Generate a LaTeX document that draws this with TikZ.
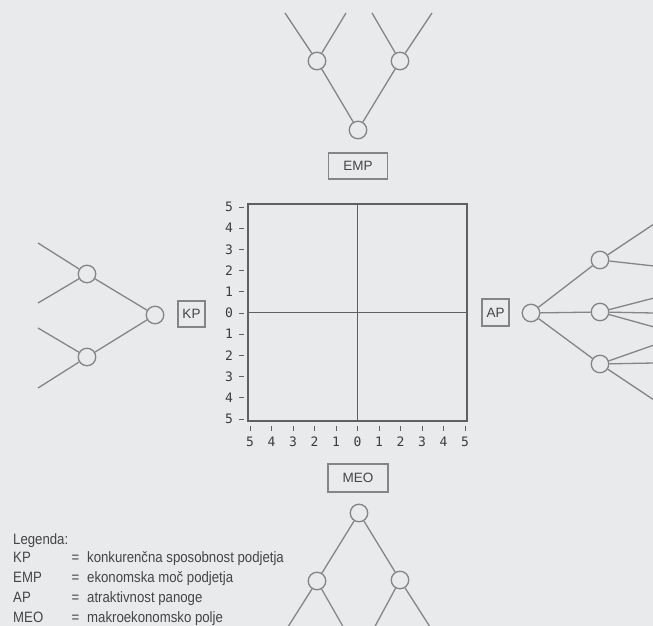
\documentclass[tikz,border=0pt]{standalone}
\usepackage{fontspec}
\setmainfont{Liberation Sans}
\newfontfamily\axisfont{DejaVu Sans Mono}
\newfontfamily\legendfont[FakeStretch=0.88]{Liberation Sans}
\definecolor{bg}{HTML}{E8EAEB}
\definecolor{ln}{HTML}{858585}
\definecolor{ax}{HTML}{606060}
\definecolor{tx}{HTML}{454545}
\definecolor{dg}{HTML}{3C3C3C}
\begin{document}
\begin{tikzpicture}[x=1pt,y=-1pt,
  circ/.style={circle,draw=ln,fill=bg,line width=1.3pt,minimum size=17.5pt,inner sep=0pt},
  lbox/.style={draw=ln,line width=1.2pt,fill=bg,text=tx,font=\fontsize{13.5}{13.5}\selectfont,minimum height=26pt,inner sep=0pt},
  conn/.style={draw=ln,line width=1.3pt},
  axlab/.style={text=dg,font=\axisfont\fontsize{13}{13}\selectfont,inner sep=0pt},
  tick/.style={draw=ax,line width=0.9pt},
  leg/.style={text=tx,font=\legendfont\fontsize{15}{15}\selectfont,inner sep=0pt,anchor=base west}]
\fill[bg] (0,0) rectangle (653,626);
\useasboundingbox (0,0) rectangle (653,626);
\begin{scope}
\clip (0,0) rectangle (653,626);
% ---------- EMP tree (top)
\node[circ] (e0) at (358,130) {};
\node[circ] (e1) at (317,61) {};
\node[circ] (e2) at (400,61) {};
\coordinate (e1a) at (285,13);
\coordinate (e1b) at (346,13);
\coordinate (e2a) at (372,13);
\coordinate (e2b) at (432,13);
\node[lbox,minimum width=59pt] (emp) at (358,166) {EMP};
\draw[conn] (e0) -- (e1) (e0) -- (e2) (e1) -- (e1a) (e1) -- (e1b) (e2) -- (e2a) (e2) -- (e2b);
% ---------- KP tree (left)
\node[circ] (k0) at (155,315) {};
\node[circ] (k1) at (87,274) {};
\node[circ] (k2) at (87,357) {};
\coordinate (k1a) at (38,243);
\coordinate (k1b) at (38,303);
\coordinate (k2a) at (38,328);
\coordinate (k2b) at (38,388);
\node[lbox,minimum width=27pt] (kp) at (191.5,314) {KP};
\draw[conn] (k0) -- (k1) (k0) -- (k2) (k1) -- (k1a) (k1) -- (k1b) (k2) -- (k2a) (k2) -- (k2b);
% ---------- AP tree (right)
\node[circ] (a0) at (531,313) {};
\node[circ] (a1) at (600,260) {};
\node[circ] (a2) at (600,312) {};
\node[circ] (a3) at (600,364) {};
\coordinate (a1a) at (654,224);
\coordinate (a1b) at (654,266);
\coordinate (a2a) at (654,298);
\coordinate (a2b) at (654,313);
\coordinate (a2c) at (654,327);
\coordinate (a3a) at (654,345);
\coordinate (a3b) at (654,363);
\coordinate (a3c) at (654,400);
\node[lbox,minimum width=27pt,minimum height=27pt] (ap) at (495.5,312.5) {AP};
\draw[conn] (a0) -- (a1) (a0) -- (a2) (a0) -- (a3)
  (a1) -- (a1a) (a1) -- (a1b)
  (a2) -- (a2a) (a2) -- (a2b) (a2) -- (a2c)
  (a3) -- (a3a) (a3) -- (a3b) (a3) -- (a3c);
% ---------- MEO tree (bottom)
\node[lbox,minimum width=60pt,minimum height=28pt] (meo) at (358,478) {MEO};
\node[circ] (m0) at (359,513) {};
\node[circ] (m1) at (317,581) {};
\node[circ] (m2) at (400,580) {};
\coordinate (m1a) at (286,630);
\coordinate (m1b) at (345,630);
\coordinate (m2a) at (373,630);
\coordinate (m2b) at (432,630);
\draw[conn] (m0) -- (m1) (m0) -- (m2) (m1) -- (m1a) (m1) -- (m1b) (m2) -- (m2a) (m2) -- (m2b);
% ---------- chart
\node[draw=ax,line width=1.2pt,minimum width=219pt,minimum height=217pt,inner sep=0pt] (chart) at (357.5,312.5) {};
\draw[ax,line width=1.2pt] (chart.north) -- (chart.south) (chart.west) -- (chart.east);
\foreach \i in {-5,...,5}{
  \pgfmathtruncatemacro\a{abs(\i)}
  \node[axlab] (yl\i) at (229,313+21.2*\i) {\a};
  \draw[tick] (239,313+21.2*\i) -- (243.5,313+21.2*\i);
  \node[axlab] (xl\i) at (357.5+21.5*\i,442) {\a};
  \draw[tick] (357.5+21.5*\i,426) -- (357.5+21.5*\i,431);
}
% ---------- legend
\node[leg] (lg) at (13,544) {Legenda:};
\node[leg] (l1) at (13,562) {KP};
\node[leg] (l2) at (13,582) {EMP};
\node[leg] (l3) at (13,602) {AP};
\node[leg] (l4) at (13,622) {MEO};
\foreach \k/\y in {1/562,2/582,3/602,4/622}{
  \node[leg,anchor=base] (eq\k) at (75.5,\y) {=};
}
\node[leg] (t1) at (87,562) {konkurenčna sposobnost podjetja};
\node[leg] (t2) at (87,582) {ekonomska moč podjetja};
\node[leg] (t3) at (87,602) {atraktivnost panoge};
\node[leg] (t4) at (87,622) {makroekonomsko polje};
\end{scope}
\end{tikzpicture}
\end{document}
